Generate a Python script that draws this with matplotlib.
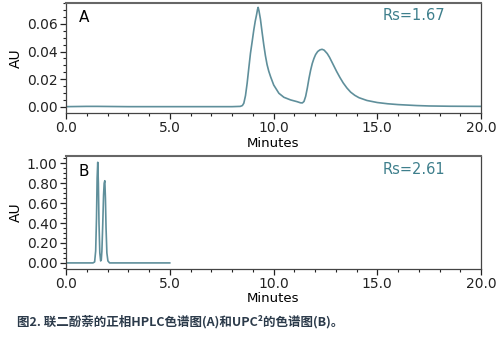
import matplotlib
matplotlib.use("Agg")
import matplotlib.pyplot as plt
from matplotlib.ticker import MultipleLocator, FormatStrFormatter

plt.rcParams['font.family'] = ['DejaVu Sans']

# Panel A (normal-phase HPLC)
time_a = [0, 1.0, 1.5, 3.0, 5.0, 7.0, 8.0, 8.4, 8.5, 8.57, 8.65, 8.73, 8.81, 8.89,
          8.97, 9.05, 9.12, 9.18, 9.23, 9.26, 9.30, 9.37, 9.45, 9.53, 9.61, 9.69,
          9.77, 9.86, 10.01, 10.26, 10.5, 10.82, 11.14, 11.3, 11.39, 11.47, 11.55,
          11.63, 11.71, 11.79, 11.87, 11.95, 12.03, 12.13, 12.24, 12.34, 12.44,
          12.59, 12.7, 12.8, 12.92, 13.04, 13.2, 13.36, 13.54, 13.72, 13.92, 14.12,
          14.5, 15.0, 15.5, 16.0, 16.9, 17.5, 18.5, 20.0]
au_a = [0.0, 0.0002, 0.0002, 0.0, 0.0, 0.0, 0.0, 0.0002, 0.0008, 0.0025, 0.008,
        0.017, 0.028, 0.0387, 0.047, 0.0556, 0.062, 0.0664, 0.0705, 0.072, 0.0695,
        0.0635, 0.054, 0.045, 0.037, 0.0305, 0.0258, 0.0217, 0.0157, 0.0097, 0.0068,
        0.0049, 0.0036, 0.0028, 0.0027, 0.0038, 0.0075, 0.0135, 0.0205, 0.0265,
        0.0314, 0.0350, 0.0378, 0.0400, 0.0412, 0.0416, 0.0410, 0.0385, 0.0358,
        0.0328, 0.0292, 0.0256, 0.0212, 0.0172, 0.0135, 0.0105, 0.0082, 0.0065,
        0.0045, 0.003, 0.0021, 0.0015, 0.0008, 0.0005, 0.0003, 0.0002]

# Panel B (UPC2)
time_b = [0, 1.0, 1.3, 1.38, 1.43, 1.47, 1.50, 1.53, 1.56, 1.59, 1.63, 1.67, 1.70,
          1.73, 1.77, 1.81, 1.84, 1.87, 1.90, 1.93, 1.97, 2.02, 2.1, 3.0, 5.0]
au_b = [0.0, 0.0, 0.0, 0.01, 0.12, 0.45, 0.85, 1.01, 0.80, 0.40, 0.10, 0.02, 0.03,
        0.12, 0.38, 0.68, 0.80, 0.825, 0.65, 0.35, 0.10, 0.02, 0.0, 0.0, 0.0]

panel_labels = ["A", "B"]
rs_labels = ["Rs=1.67", "Rs=2.61"]
x_ticks = [0.0, 5.0, 10.0, 15.0, 20.0]
caption = "图2. 联二酚萘的正相HPLC色谱图(A)和UPC²的色谱图(B)。"

line_color = "#5f8f9b"
rs_color = "#3e7f8c"

fig = plt.figure(figsize=(4.99, 3.42), dpi=100)
W, H = 499, 342

def ax_rect(left, top, right, bottom):
    return [left / W, 1 - bottom / H, (right - left) / W, (bottom - top) / H]

axA = fig.add_axes(ax_rect(66, 2.7, 481, 113))
axB = fig.add_axes(ax_rect(66, 156, 481, 268.5))

axA.plot(time_a, au_a, color=line_color, lw=1.2)
axB.plot(time_b, au_b, color=line_color, lw=1.2)

axA.set_ylim(-0.0046, 0.0754)
axA.yaxis.set_major_locator(MultipleLocator(0.02))
axA.yaxis.set_minor_locator(MultipleLocator(0.005))
axA.yaxis.set_major_formatter(FormatStrFormatter('%.2f'))

axB.set_ylim(-0.056, 1.073)
axB.yaxis.set_major_locator(MultipleLocator(0.2))
axB.yaxis.set_minor_locator(MultipleLocator(0.05))
axB.yaxis.set_major_formatter(FormatStrFormatter('%.2f'))

for ax, pl, rs in zip([axA, axB], panel_labels, rs_labels):
    ax.set_xlim(0, 20)
    ax.set_xticks(x_ticks)
    ax.xaxis.set_minor_locator(MultipleLocator(1))
    ax.xaxis.set_major_formatter(FormatStrFormatter('%.1f'))
    ax.tick_params(axis='both', which='major', direction='out', length=4,
                   width=0.9, labelsize=10, pad=2, colors='#222222')
    ax.tick_params(axis='both', which='minor', direction='out', length=2.5,
                   width=0.8, colors='#222222')
    ax.set_ylabel("AU", fontsize=10, labelpad=3)
    ax.set_xlabel("Minutes", fontsize=9.5, labelpad=1)
    for s in ax.spines.values():
        s.set_color('#444444')
        s.set_linewidth(0.9)
    ax.spines['top'].set_color('#666666')
    ax.spines['top'].set_linewidth(1.5)
    ax.text(0.03, 0.93, pl, transform=ax.transAxes, fontsize=11, va='top', ha='left')
    ax.text(0.915, 0.95, rs, transform=ax.transAxes, fontsize=10.5, va='top',
            ha='right', color=rs_color)

fig.text(17 / W, 1 - 322 / H, caption, fontsize=9, fontweight='bold',
         color='#2b3a4a', family=['Noto Sans CJK SC', 'DejaVu Sans'],
         ha='left', va='center')

fig.savefig("out.png", dpi=100)
